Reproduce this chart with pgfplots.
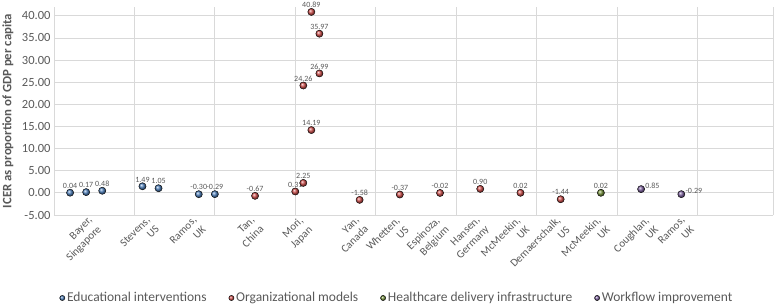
\documentclass[border=0pt]{standalone}
\usepackage{fontspec}
\setmainfont{Carlito}
\usepackage{pgfplots}
\pgfplotsset{compat=1.18}
\usepackage{pgfplotstable}
\definecolor{gridc}{HTML}{D9D9D9}
\definecolor{txt}{HTML}{595959}
\definecolor{cblue}{HTML}{4F81BD}
\definecolor{cred}{HTML}{D0504D}
\definecolor{cgreen}{HTML}{77933C}
\definecolor{cpurple}{HTML}{8064A2}

\pgfplotstableread{
x y lab
2 0.04 0.04
4 0.17 0.17
6 0.48 0.48
11 1.49 1.49
13 1.05 1.05
18 -0.30 -0.30
20 -0.29 -0.29
}\edu
\pgfplotstableread{
x y lab
25 -0.67 -0.67
30 0.31 0.31
31 2.25 2.25
31 24.26 24.26
32 14.19 14.19
32 40.89 40.89
33 35.97 35.97
33 26.99 26.99
38 -1.58 -1.58
43 -0.37 -0.37
48 -0.02 -0.02
53 0.90 0.90
58 0.02 0.02
63 -1.44 -1.44
}\org
\pgfplotstableread{
x y lab
68 0.02 0.02
}\hdi
\pgfplotstableread{
x y lab
73 0.85 0.85
78 -0.29 -0.29
}\wfi

\begin{document}
\begin{tikzpicture}
\useasboundingbox (-54bp,-92bp) rectangle (723bp,215bp);
\begin{axis}[
  at={(0,0)}, anchor=south west,
  scale only axis, width=719bp, height=208bp,
  xmin=0, xmax=89.4, ymin=-5, ymax=42,
  axis line style={draw=none},
  ytick={-5,0,...,40},
  yticklabels={-5.00,0.00,5.00,10.00,15.00,20.00,25.00,30.00,35.00,40.00},
  ymajorgrids,
  xtick={4.8,12,17.8,25,31,38,43,48,53,58,63,68,74,78.5},
  xticklabels={{Bayer,\\Singapore},{Stevens,\\US},{Ramos,\\UK},{Tan,\\China},{Mori,\\Japan},{Yan,\\Canada},{Whetten,\\US},{Espinoza,\\Belgium},{Hansen,\\Germany},{McMeekin,\\UK},{Demaerschalk,\\US},{McMeekin,\\UK},{Coughlan,\\UK},{Ramos,\\UK}},
  x tick label style={rotate=45, anchor=north east, align=right, inner sep=1bp, xshift=-3bp, yshift=4bp, font=\fontsize{11bp}{13bp}\selectfont},
  minor xtick={0,10,20,30,40,50,60,70,80,89.4},
  xminorgrids,
  grid style={gridc, line width=0.75bp},
  minor grid style={gridc, line width=0.75bp},
  tick style={draw=none},
  every tick label/.append style={text=txt},
  every y tick label/.append style={font=\fontsize{12.5bp}{14bp}\selectfont},
  ylabel={ICER as proportion of GDP per capita},
  every axis y label/.style={at={(axis description cs:-0.064,0.5)}, rotate=90, anchor=center, font=\bfseries\fontsize{12.8bp}{14bp}\selectfont, text=txt},
  clip=false,
  legend columns=4,
  legend style={at={(axis description cs:0.477,-0.399)}, anchor=center, draw=none, fill=none,
    font=\fontsize{13.5bp}{15bp}\selectfont, text=txt,
    /tikz/every even column/.append style={column sep=20bp}},
  legend image post style={mark size=2.6bp},
  legend cell align=left,
  nodes near coords, point meta=explicit symbolic,
  every node near coord/.append style={font=\fontsize{8bp}{9bp}\selectfont, text=txt, anchor=south, yshift=3bp, inner sep=1bp},
]
\addplot[only marks, mark=ball, mark size=3.6bp, mark options={ball color=cblue}] table[x=x,y=y,meta=lab]{\edu};
\addlegendentry{Educational interventions}
\addplot[only marks, mark=ball, mark size=3.6bp, mark options={ball color=cred}] table[x=x,y=y,meta=lab]{\org};
\addlegendentry{Organizational models}
\addplot[only marks, mark=ball, mark size=3.6bp, mark options={ball color=cgreen}] table[x=x,y=y,meta=lab]{\hdi};
\addlegendentry{Healthcare delivery infrastructure}
\addplot[only marks, mark=ball, mark size=3.6bp, mark options={ball color=cpurple},
  every node near coord/.append style={anchor=west, yshift=0bp, xshift=3bp}] table[x=x,y=y,meta=lab]{\wfi};
\addlegendentry{Workflow improvement}
\end{axis}
\end{tikzpicture}
\end{document}
